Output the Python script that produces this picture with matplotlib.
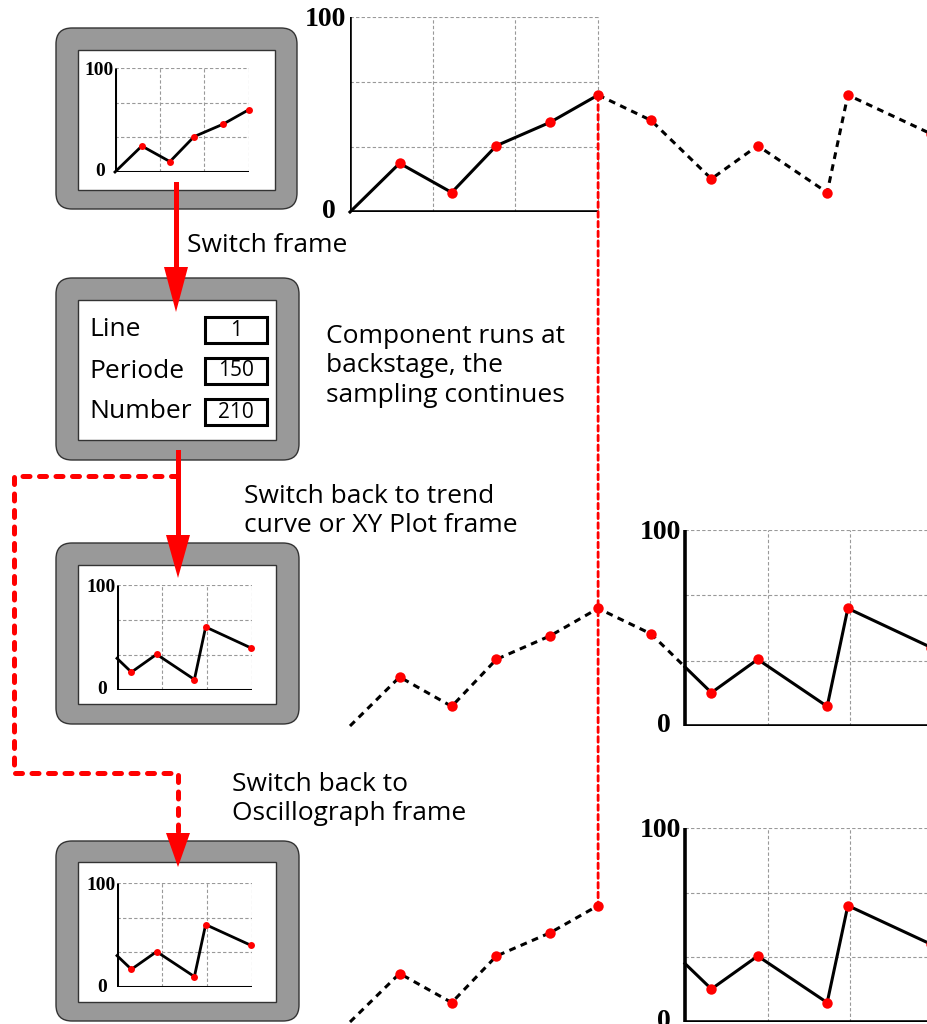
import numpy as np
import matplotlib.pyplot as plt
from matplotlib.patches import FancyBboxPatch, Rectangle, Polygon, ConnectionPatch

# sampled signal: time in grid cells, value in percent
sample_time = [0, 0.60, 1.23, 1.77, 2.42, 3.00, 3.64, 4.37, 4.93, 5.77, 6.02, 7.03]
sample_value = [0, 25, 10, 34, 46, 60, 47, 17, 34, 10, 60, 40]

first_window = (0.0, 3.0)     # oscillograph view before switching
second_window = (4.05, 7.05)  # view after switching back
grid_values = [100 / 3, 200 / 3, 100]

settings_labels = ["Line", "Periode", "Number"]
settings_values = ["1", "150", "210"]

W, H = 928, 1024
CELL = 82.7  # pixels per grid cell on the large charts
RED = "#ff0000"
SANS = "Open Sans"
SERIF = "Liberation Serif"

t = np.array(sample_time)
v = np.array(sample_value)

fig = plt.figure(figsize=(W / 100, H / 100), dpi=100)
fig.patch.set_facecolor("white")

# overlay in pixel units for the frames, arrows and captions
ov = fig.add_axes([0, 0, 1, 1])
ov.set_xlim(0, W)
ov.set_ylim(H, 0)
ov.set_axis_off()
ov.set_zorder(0)


def px_axes(x0, y0, x1, y1):
    ax = fig.add_axes([x0 / W, 1 - y1 / H, (x1 - x0) / W, (y1 - y0) / H])
    ax.set_axis_off()
    ax.patch.set_visible(False)
    ax.set_ylim(0, 100)
    ax.set_zorder(2)
    return ax


def segment(ta, tb):
    pts = np.concatenate([[ta], t[(t > ta) & (t < tb)], [tb]])
    return pts, np.interp(pts, t, v)


def chart_box(ax, win, lw_axis, fs, off100, off0):
    t0, t1 = win
    step = (t1 - t0) / 3
    for k in (1, 2, 3):
        ax.plot([t0 + k * step] * 2, [0, 100], color="#999999", lw=0.8,
                ls=(0, (3, 2)), zorder=1)
    for g in grid_values:
        ax.plot([t0, t1], [g, g], color="#999999", lw=0.8, ls=(0, (3, 2)), zorder=1)
    ax.plot([t0, t0, t1], [100, 0, 0], color="black", lw=lw_axis,
            solid_joinstyle="miter", solid_capstyle="butt", zorder=3)
    ax.annotate("100", (t0, 100), xytext=(-off100, -2), textcoords="offset points",
                ha="right", va="center", fontsize=fs, fontweight="bold", family=SERIF)
    ax.annotate("0", (t0, 0), xytext=(-off0, 0), textcoords="offset points",
                ha="right", va="center", fontsize=fs, fontweight="bold", family=SERIF)


def series(ax, ta, tb, dashed, lw):
    x, y = segment(ta, tb)
    ls = (0, (2.2, 1.8)) if dashed else "-"
    ax.plot(x, y, color="black", lw=lw, ls=ls, zorder=4, clip_on=False)


def markers(ax, mask, ms):
    ax.plot(t[mask], v[mask], "o", color=RED, ms=ms, mec="none", zorder=5, clip_on=False)


# ---- large charts on the right ----
big_xmax = (W - 350) / CELL
rows = {}
for name, (y0, y1) in {"top": (17, 212), "mid": (530, 726), "bot": (828, 1022)}.items():
    ax = px_axes(350, y0, W, y1)
    ax.set_xlim(0, big_xmax)
    rows[name] = ax

ax = rows["top"]
chart_box(ax, first_window, 2.6, 20, 3, 10)
series(ax, 0, first_window[1], False, 2.2)
series(ax, first_window[1], t[-1], True, 2.2)
markers(ax, t > 0, 7.5)

ax = rows["mid"]
chart_box(ax, second_window, 2.6, 20, 3, 10)
series(ax, 0, second_window[0], True, 2.2)
series(ax, second_window[0], t[-1], False, 2.2)
markers(ax, t > 0, 7.5)

ax = rows["bot"]
chart_box(ax, second_window, 2.6, 20, 3, 10)
series(ax, 0, first_window[1], True, 2.2)
series(ax, second_window[0], t[-1], False, 2.2)
markers(ax, ((t > 0) & (t <= first_window[1])) | (t >= second_window[0]), 7.5)

# red dotted marker of the switching moment
v_switch = np.interp(first_window[1], t, v)
con = ConnectionPatch(xyA=(first_window[1], v_switch), coordsA=rows["top"].transData,
                      xyB=(first_window[1], v_switch), coordsB=rows["bot"].transData,
                      color=RED, lw=2, ls=(0, (2, 1.5)), zorder=3)
fig.add_artist(con)

# ---- device frames on the left ----
frames = [(56, 28, 297, 209), (56, 278, 299, 460), (56, 543, 299, 724), (56, 841, 299, 1021)]
inners = [(78, 50, 275, 190), (78, 300, 276, 440), (78, 565, 276, 704), (78, 862, 276, 1002)]
for (x0, y0, x1, y1), (a0, b0, a1, b1) in zip(frames, inners):
    ov.add_patch(FancyBboxPatch((x0, y0), x1 - x0, y1 - y0,
                                boxstyle="round,pad=0,rounding_size=16",
                                fc="#999999", ec="#333333", lw=1, zorder=1))
    ov.add_patch(Rectangle((a0, b0), a1 - a0, b1 - b0, fc="white", ec="#333333",
                           lw=1, zorder=2))

mini1 = px_axes(115, 68, 249, 172)
mini1.set_xlim(*first_window)
chart_box(mini1, first_window, 2.2, 14, 1, 7)
series(mini1, 0, first_window[1], False, 2.0)
markers(mini1, (t > 0) & (t <= first_window[1]), 5)

for y0, y1 in [(585, 690), (883, 987)]:
    m = px_axes(117, y0, 252, y1)
    m.set_xlim(*second_window)
    chart_box(m, second_window, 2.2, 14, 1, 7)
    series(m, second_window[0], t[-1], False, 2.0)
    markers(m, t >= second_window[0], 5)

# settings panel
for i, (lab, val) in enumerate(zip(settings_labels, settings_values)):
    yc = 330 + 41 * i
    ov.text(89, yc, lab, fontsize=19, family=SANS, va="center", ha="left", zorder=3)
    ov.add_patch(Rectangle((205, yc - 13), 62, 26, fc="white", ec="black", lw=2.2, zorder=3))
    ov.text(236, yc, val, fontsize=15, family=SANS, va="center", ha="center", zorder=4)

# ---- arrows ----
def head(x, yb, yt):
    ov.add_patch(Polygon([(x - 12, yb), (x + 12, yb), (x, yt)], closed=True,
                         fc=RED, ec="none", zorder=6))


ov.plot([176, 176], [184, 272], color=RED, lw=3.6, zorder=6)
head(176, 267, 312)
ov.plot([178, 178], [452, 540], color=RED, lw=3.6, zorder=6)
head(178, 535, 578)
ov.plot([178, 14, 14, 178, 178], [476, 476, 773, 773, 836], color=RED, lw=3.6,
        ls=(0, (1.4, 1.9)), dash_capstyle="round", solid_joinstyle="round", zorder=5)
head(178, 833, 867)

# ---- captions ----
ov.text(187, 245, "Switch frame", fontsize=19, family=SANS, va="center", ha="left")
ov.text(326, 366, "Component runs at\nbackstage, the\nsampling continues", fontsize=19,
        family=SANS, va="center", ha="left", linespacing=1.25)
ov.text(244, 511, "Switch back to trend\ncurve or XY Plot frame", fontsize=19,
        family=SANS, va="center", ha="left", linespacing=1.25)
ov.text(232, 799, "Switch back to\nOscillograph frame", fontsize=19,
        family=SANS, va="center", ha="left", linespacing=1.25)

fig.savefig("out.png", dpi=100)
